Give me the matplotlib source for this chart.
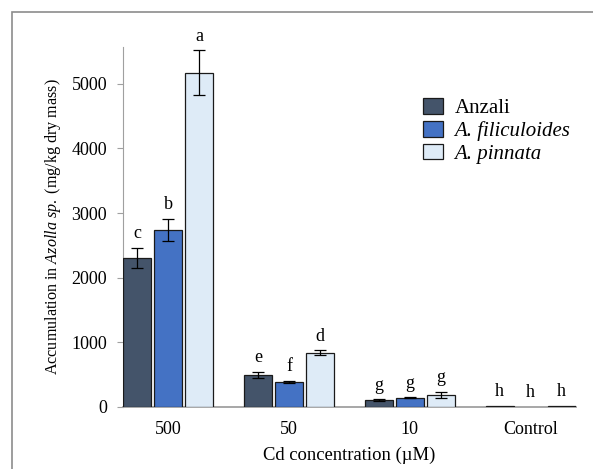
import numpy as np
import matplotlib
matplotlib.use("Agg")
import matplotlib.pyplot as plt
from matplotlib.patches import Rectangle

plt.rcParams['font.family'] = ['Liberation Serif', 'DejaVu Serif']
plt.rcParams['mathtext.fontset'] = 'custom'
plt.rcParams['mathtext.rm'] = 'Liberation Serif'
plt.rcParams['mathtext.it'] = 'Liberation Serif:italic'

categories = ["500", "50", "10", "Control"]
series = ["Anzali", "A. filiculoides", "A. pinnata"]
anzali = [2305, 495, 108, 18]
filiculoides = [2740, 390, 140, 0]
pinnata = [5170, 840, 186, 18]
anzali_err = [155, 50, 10, 0]
filiculoides_err = [170, 15, 8, 0]
pinnata_err = [350, 40, 50, 0]
letters_anzali = ["c", "e", "g", "h"]
letters_fil = ["b", "f", "g", "h"]
letters_pin = ["a", "d", "g", "h"]

colors = ["#44546a", "#4472c4", "#deebf7"]
values = [anzali, filiculoides, pinnata]
errors = [anzali_err, filiculoides_err, pinnata_err]
letters = [letters_anzali, letters_fil, letters_pin]

fig = plt.figure(figsize=(5.93, 4.69), dpi=100)
ax = fig.add_axes([0.2074, 0.1322, 0.7636, 0.7676])

# grey outer frame, clipped at right and bottom like the reference
fig.patches.append(Rectangle((12 / 593, -0.1), 1.2, 1 - 12 / 469 + 0.1,
                             transform=fig.transFigure, fill=False,
                             edgecolor="#8c8c8c", linewidth=1.2))

x = np.arange(len(categories))
width = 0.232
step = 0.256
for i in range(3):
    pos = x + (i - 1) * step
    lw = [0.9 if v > 0 else 0 for v in values[i]]
    ax.bar(pos, values[i], width, color=colors[i], edgecolor="#1a1a1a",
           linewidth=lw, label=series[i], zorder=3)
    for j in range(len(categories)):
        if errors[i][j] > 0:
            ax.errorbar(pos[j], values[i][j], yerr=errors[i][j], fmt="none",
                        ecolor="black", elinewidth=0.9, capsize=4,
                        capthick=0.9, zorder=4)
        ax.annotate(letters[i][j], (pos[j], values[i][j] + errors[i][j]),
                    xytext=(0, 4), textcoords="offset points",
                    ha="center", va="bottom", fontsize=13)

ax.set_xlim(-0.372, 3.372)
ax.set_ylim(0, 5570)
ax.set_yticks([0, 1000, 2000, 3000, 4000, 5000])
ax.set_xticks(x)
ax.set_xticklabels(categories)
ax.tick_params(axis="x", length=0, pad=10, labelsize=13)
ax.tick_params(axis="y", length=4.5, color="#a0a0a0", labelsize=13, pad=7)
for s in ["top", "right"]:
    ax.spines[s].set_visible(False)
ax.spines["left"].set_color("#a0a0a0")
ax.spines["bottom"].set_color("#a0a0a0")
ax.spines["bottom"].set_linewidth(1.3)

ax.set_ylabel(r"Accumulation in $\it{Azolla\ sp.}$ (mg/kg dry mass)",
              fontsize=11.6, labelpad=6)
ax.set_xlabel("Cd concentration (\u00b5M)", fontsize=13.4, labelpad=6)

leg = ax.legend(loc="upper left", bbox_to_anchor=(0.64, 0.887), frameon=False,
                fontsize=15, handlelength=0.95, handleheight=0.8,
                handletextpad=0.55, labelspacing=0.12, borderpad=0)
for t in leg.get_texts()[1:]:
    t.set_fontstyle("italic")

fig.savefig("out.png", dpi=100)
